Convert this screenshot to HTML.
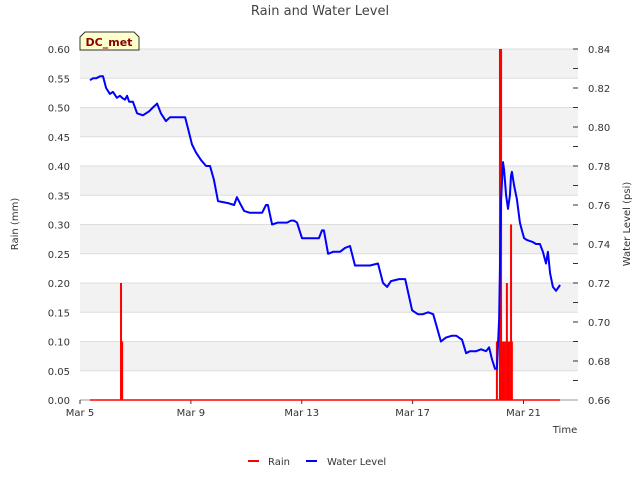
<!DOCTYPE html>
<html><head><meta charset="utf-8"><style>
body{margin:0;background:#fff;font-family:"Liberation Sans","DejaVu Sans",sans-serif}
svg text{font-family:"DejaVu Sans","Liberation Sans",sans-serif}
</style></head><body>
<svg id="chart" width="640" height="480" viewBox="0 0 640 480" xmlns="http://www.w3.org/2000/svg">
<text x="320" y="15" text-anchor="middle" font-size="13" fill="#444">Rain and Water Level</text>
<g id="bands"></g><g id="grid"></g>
<g id="axes"></g>
<g id="rain"></g><g id="water"></g>
<g>
<path d="M80,50 L80,37 L85,32 L134,32 L139,37 L139,50 Z" fill="#ffffcc" stroke="#333" stroke-width="1"/>
<text x="109" y="46" text-anchor="middle" font-size="11" font-weight="bold" fill="#8b0000">DC_met</text>
</g>
<text transform="translate(18,224) rotate(-90)" text-anchor="middle" font-size="10" fill="#333">Rain (mm)</text>
<text transform="translate(630,224) rotate(-90)" text-anchor="middle" font-size="10" fill="#333">Water Level (psi)</text>
<text x="565" y="433" text-anchor="middle" font-size="10" fill="#333">Time</text>
<g>
<g><line x1="248" y1="461" x2="259" y2="461" stroke="red" stroke-width="2"/><text x="268" y="465" font-size="10" fill="#333">Rain</text></g>
<g><line x1="306" y1="461" x2="317" y2="461" stroke="blue" stroke-width="2"/><text x="327" y="465" font-size="10" fill="#333">Water Level</text></g>
</g>
</svg>
<script>
const xTickLabels=["Mar 5","Mar 9","Mar 13","Mar 17","Mar 21"];
const xTickDays=[0,4,8,12,16];
const leftTicks=[0,0.05,0.1,0.15,0.2,0.25,0.3,0.35,0.4,0.45,0.5,0.55,0.6];
const rightTicks=[0.66,0.68,0.7,0.72,0.74,0.76,0.78,0.8,0.82,0.84];
const rainDays=[1.48,1.52,15.04,15.15,15.19,15.26,15.33,15.40,15.44,15.51,15.55,15.58];
const rainValues=[0.2,0.1,0.1,0.6,0.6,0.1,0.1,0.2,0.1,0.1,0.3,0.1];
const waterDays=[0.36,0.47,0.58,0.72,0.83,0.94,1.08,1.19,1.33,1.44,1.52,1.62,1.70,1.77,1.91,2.06,2.27,2.49,2.63,2.78,2.92,3.10,3.25,3.39,3.54,3.79,3.90,4.04,4.18,4.37,4.55,4.69,4.83,4.98,5.34,5.56,5.66,5.77,5.92,6.13,6.31,6.57,6.71,6.78,6.93,7.14,7.47,7.61,7.72,7.83,8.01,8.12,8.37,8.62,8.73,8.80,8.95,9.13,9.38,9.56,9.74,9.92,10.28,10.46,10.75,10.93,11.08,11.22,11.51,11.73,11.98,12.19,12.37,12.56,12.74,13.02,13.20,13.42,13.57,13.67,13.78,13.93,14.07,14.29,14.47,14.65,14.76,14.86,14.97,15.04,15.12,15.19,15.26,15.30,15.37,15.44,15.51,15.55,15.58,15.66,15.76,15.87,15.94,16.02,16.13,16.34,16.45,16.59,16.70,16.81,16.88,16.96,17.06,17.17,17.32];
const waterValues=[0.824,0.825,0.825,0.826,0.826,0.820,0.817,0.818,0.815,0.816,0.815,0.814,0.816,0.813,0.813,0.807,0.806,0.808,0.810,0.812,0.807,0.803,0.805,0.805,0.805,0.805,0.799,0.791,0.787,0.783,0.780,0.780,0.773,0.762,0.761,0.760,0.764,0.761,0.757,0.756,0.756,0.756,0.760,0.760,0.750,0.751,0.751,0.752,0.752,0.751,0.743,0.743,0.743,0.743,0.747,0.747,0.735,0.736,0.736,0.738,0.739,0.729,0.729,0.729,0.730,0.720,0.718,0.721,0.722,0.722,0.706,0.704,0.704,0.705,0.704,0.690,0.692,0.693,0.693,0.692,0.691,0.684,0.685,0.685,0.686,0.685,0.687,0.681,0.676,0.676,0.701,0.763,0.782,0.778,0.765,0.758,0.765,0.775,0.777,0.770,0.763,0.751,0.747,0.743,0.742,0.741,0.740,0.740,0.736,0.730,0.736,0.725,0.718,0.716,0.719];

const NS="http://www.w3.org/2000/svg";
const X0=80,X1=578,Y0=400,Y1=49;
const xs=d=>X0+d*27.72;
const yL=v=>Y0-(v/0.6)*(Y0-Y1);
const yR=v=>Y0-((v-0.66)/0.18)*(Y0-Y1);
function mk(tag,attrs,parent){const e=document.createElementNS(NS,tag);for(const k in attrs)e.setAttribute(k,attrs[k]);document.getElementById(parent).appendChild(e);return e;}
for(let i=0;i<leftTicks.length-1;i++){
  if(i%2===1){const r=mk('rect',{x:X0,y:yL(leftTicks[i+1]),width:X1-X0,height:yL(leftTicks[i])-yL(leftTicks[i+1]),fill:'#f2f2f2'},'bands');
  
  }
}
leftTicks.forEach(t=>{
  const g=mk('line',{x1:X0,x2:X1,y1:yL(t),y2:yL(t),stroke:'#dddddd','stroke-width':1},'grid');
  
  
  const tx=mk('text',{x:X0-10,y:yL(t)+4,'text-anchor':'end','font-size':10,fill:'#333'},'axes');
  tx.textContent=t.toFixed(2);
  
  
});
rightTicks.forEach((t,i)=>{
  const tx=mk('text',{x:X1+10,y:yR(t)+4,'font-size':10,fill:'#333'},'axes');
  tx.textContent=t.toFixed(2);
  
  
  mk('line',{x1:X1-5,x2:X1,y1:yR(t),y2:yR(t),stroke:'#333'},'axes');
  if(i<rightTicks.length-1){const m=(t+rightTicks[i+1])/2;mk('line',{x1:X1-5,x2:X1,y1:yR(m),y2:yR(m),stroke:'#333'},'axes');}
});
const ax=mk('line',{x1:X0,x2:X1,y1:Y0,y2:Y0,stroke:'#999'},'axes');


xTickDays.forEach((d,i)=>{
  mk('line',{x1:xs(d),x2:xs(d),y1:Y0,y2:Y0+4,stroke:'#333'},'axes');
  const tx=mk('text',{x:xs(d),y:Y0+16,'text-anchor':'middle','font-size':10,fill:'#333'},'axes');
  tx.textContent=xTickLabels[i];
  
  
});
const rb=mk('line',{x1:xs(waterDays[0]),x2:560,y1:Y0,y2:Y0,stroke:'red','stroke-width':1.5},'rain');


rainDays.forEach((d,i)=>{
  const b=mk('line',{x1:xs(d),x2:xs(d),y1:Y0,y2:yL(rainValues[i]),stroke:'red','stroke-width':2},'rain');
  
  
});
const pts=waterDays.map((d,i)=>xs(d).toFixed(1)+','+yR(waterValues[i]).toFixed(1)).join(' ');
const pl=mk('polyline',{points:pts,fill:'none',stroke:'blue','stroke-width':2,'stroke-linejoin':'round'},'water');


</script>
</body></html>
